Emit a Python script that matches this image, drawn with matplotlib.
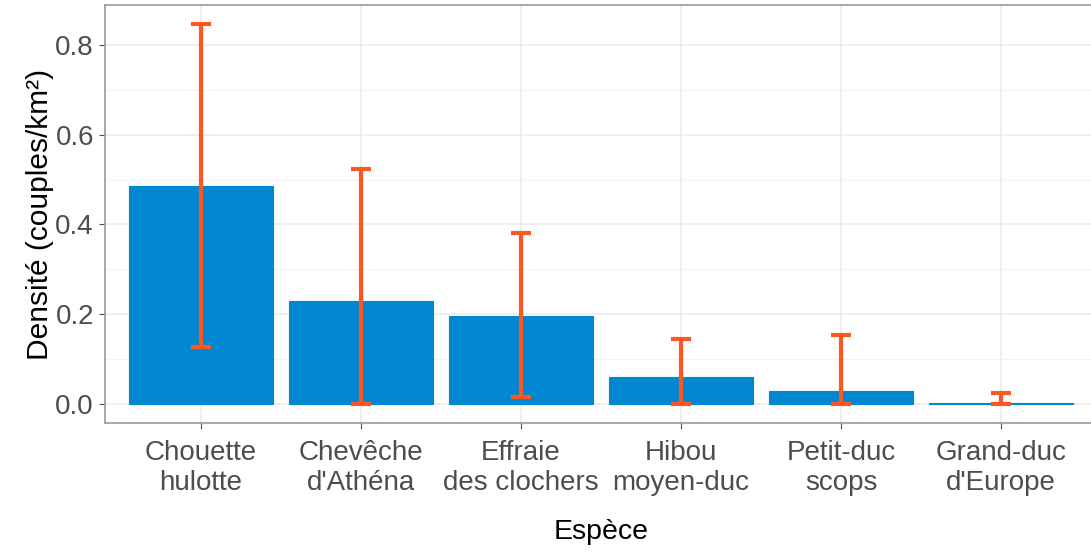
import numpy as np
import matplotlib.pyplot as plt
from matplotlib.ticker import MultipleLocator

# Données
especes = ["Chouette\nhulotte", "Chevêche\nd'Athéna", "Effraie\ndes clochers",
           "Hibou\nmoyen-duc", "Petit-duc\nscops", "Grand-duc\nd'Europe"]
densite = [0.486, 0.229, 0.197, 0.059, 0.029, 0.003]
ic_bas = [0.128, 0.0, 0.015, 0.0, 0.0, 0.0]
ic_haut = [0.847, 0.524, 0.380, 0.144, 0.154, 0.024]

plt.rcParams['font.family'] = ['Liberation Sans', 'DejaVu Sans']

fig = plt.figure(figsize=(10.91, 5.52), dpi=100)
ax = fig.add_axes([105/1091, 129/552, 992/1091, 418/552])

x = np.arange(1, len(especes) + 1)
ax.bar(x, densite, width=0.9, color="#0288D1", edgecolor="#0288D1",
       linewidth=0.8, zorder=2)

# Barres d'erreur (intervalle)
ic_bas = np.array(ic_bas)
ic_haut = np.array(ic_haut)
d = np.array(densite)
ax.errorbar(x, d, yerr=[d - ic_bas, ic_haut - d], fmt="none", ecolor="#FF5722",
            elinewidth=3, capsize=7.5, capthick=3, zorder=3)

ax.set_xlim(0.4, 6.6)
ax.set_ylim(-0.0424, 0.889)
ax.set_xticks(x)
ax.set_xticklabels(especes, linespacing=1.2)
ax.yaxis.set_minor_locator(MultipleLocator(0.1))
ax.set_yticks([0.0, 0.2, 0.4, 0.6, 0.8])
ax.set_yticklabels(["0.0", "0.2", "0.4", "0.6", "0.8"])

ax.grid(which="major", color="#EBEBEB", linewidth=1.1, zorder=0)
ax.grid(which="minor", axis="y", color="#F3F3F3", linewidth=0.8, zorder=0)
ax.set_axisbelow(True)
ax.tick_params(axis="both", which="major", labelsize=20, labelcolor="#4D4D4D",
               color="#4D4D4D", length=4, width=0.8, pad=4)
ax.tick_params(axis="x", which="major", pad=8)
ax.tick_params(axis="y", which="minor", length=0)
for s in ax.spines.values():
    s.set_color("#9A9A9A")
    s.set_linewidth(1.2)

ax.set_xlabel("Espèce", fontsize=20.5, labelpad=17)
ax.set_ylabel("Densité (couples/km²)", fontsize=21.5, labelpad=1)

plt.savefig("out.png", dpi=100)
